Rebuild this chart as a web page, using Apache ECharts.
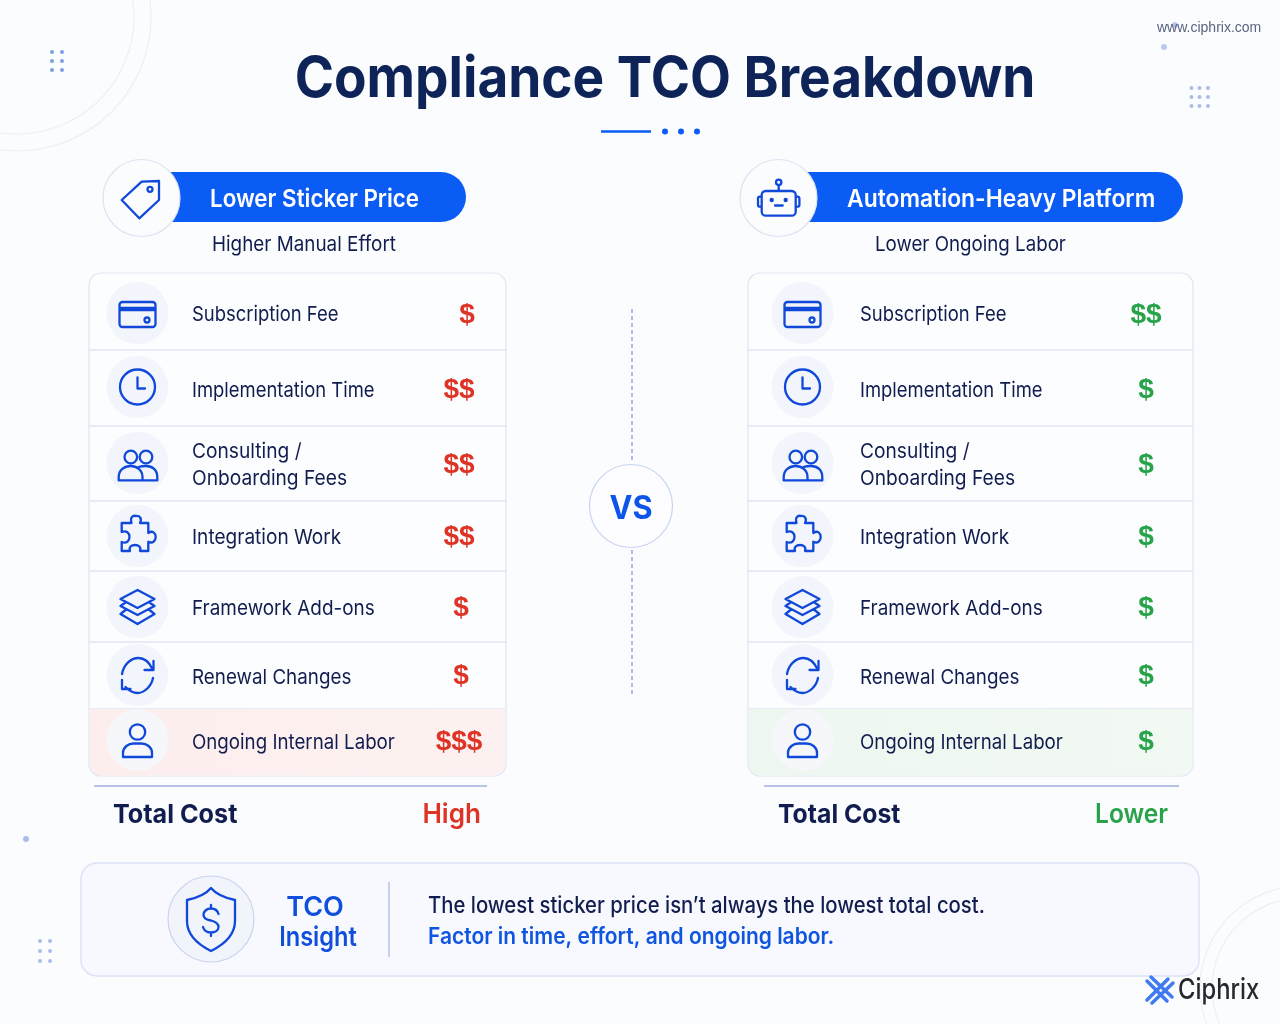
<!DOCTYPE html>
<html>
<head>
<meta charset="utf-8">
<title>Compliance TCO Breakdown</title>
<script src="https://cdn.jsdelivr.net/npm/echarts@6/dist/echarts.min.js"></script>
<style>
html, body { margin: 0; padding: 0; background: #fbfcfe; }
#chart { width: 1280px; height: 1024px; }
</style>
</head>
<body>
<div id="chart"></div>
<script>
// table content
var rowLabels = ['Subscription Fee', 'Implementation Time', 'Consulting /\nOnboarding Fees', 'Integration Work', 'Framework Add-ons', 'Renewal Changes', 'Ongoing Internal Labor'];
var rowIcons = ['card', 'clock', 'people', 'puzzle', 'layers', 'refresh', 'person'];
var leftCost = [1, 2, 2, 2, 1, 1, 3];
var rightCost = [2, 1, 1, 1, 1, 1, 1];

// layout of the rows (px from top of card)
var rowEdges = [0, 77, 153, 228, 298, 369, 436, 503];
var iconOffsets = [40, 114, 190, 263, 334, 402, 467];
var textOffsets = [42, 118, 192, 265, 336, 405, 470];
var costOffsets = [42, 117, 192, 264, 335, 403, 469];
var labelScale = [0.899, 0.898, 0.936, 0.93, 0.923, 0.918, 0.913];
var leftCostX = [378, 370, 370, 370, 372, 372, 370];

var font = 'Inter';
var navy = '#111d4f';
var blue = '#0b5cf4';
var iconBlue = '#1048da';
var red = '#dd3426';
var green = '#28a34a';
var line = '#dfe5f3';

var icons = {
    card: 'M-15,-11 H15 A3,3 0 0 1 18,-8 V11 A3,3 0 0 1 15,14 H-15 A3,3 0 0 1 -18,11 V-8 A3,3 0 0 1 -15,-11 Z M-18,-5 H18 M-18,-3 H18 M7,7 a2.5,2.5 0 1 0 5,0 a2.5,2.5 0 1 0 -5,0 Z',
    clock: 'M-17.5,0 a17.5,17.5 0 1 0 35,0 a17.5,17.5 0 1 0 -35,0 Z M0,-9.5 V1.5 H7.5',
    people: 'M-13,-6 a6.3,6.3 0 1 0 12.6,0 a6.3,6.3 0 1 0 -12.6,0 Z M2.2,-6 a6.3,6.3 0 1 0 12.6,0 a6.3,6.3 0 1 0 -12.6,0 Z M-18.8,17.4 V14 C-18.8,7 -13,3 -6.8,3 C-1,3 5,7 5,14 V17.4 Z M1,4 C3,3.4 5,3 8.5,3 C15,3 19.8,7 19.8,14 V17.4 H5',
    puzzle: 'M-15.8,-13 H-6 C-8,-20 -3,-20.5 -2,-20 C3,-20.5 4.5,-17 2.5,-13 H10.8 V-3 C15,-6 18.2,-3 18.2,1 C18.2,5 15,8 10.8,5.7 V15 H2.5 C4,11 1,9 -2.5,9 C-6,9 -9,11 -7.5,15 H-15.8 V6 C-11,8 -8,5 -8,1 C-8,-3 -11,-6 -15.8,-4 Z',
    layers: 'M0,-17 L17,-8 L0,1 L-17,-8 Z M-12,-4.5 L-17,-1 L0,8 L17,-1 L12,-4.5 M-12,3 L-17,7 L0,17 L17,7 L12,3',
    refresh: 'M-15.5,-1 C-14,-10 -7,-17 1,-17 C7,-17 12,-12 15,-6 M16,-14 V-5 H7 M15.5,3 C14,11 7,18 0,18 C-5,18 -9,15 -12,12 M-15.5,5 V14 H-7',
    person: 'M-7.7,-8 a7.7,7.7 0 1 0 15.4,0 a7.7,7.7 0 1 0 -15.4,0 Z M-14.5,17 V13 C-14.5,7 -9,3.5 -4,3.5 H4 C9,3.5 14.5,7 14.5,13 V17 Z',
    tag: 'M-19.3,2 L0.7,-16.3 L18,-17 L18,2 L-1.7,20.3 Z M6.5,-8.7 a2.5,2.5 0 1 0 5,0 a2.5,2.5 0 1 0 -5,0 Z',
    robot: 'M-12.3,-7 H13.7 A4,4 0 0 1 17.7,-3 V13.7 A4,4 0 0 1 13.7,17.7 H-12.3 A4,4 0 0 1 -16.3,13.7 V-3 A4,4 0 0 1 -12.3,-7 Z M0.7,-7 V-13 M-2,-15.7 a2.7,2.7 0 1 0 5.4,0 a2.7,2.7 0 1 0 -5.4,0 Z M-16.3,-1.3 H-18 A2,2 0 0 0 -20,0.7 V6.7 A2,2 0 0 0 -18,8.7 H-16.3 M17.7,-1.3 H19.4 A2,2 0 0 1 21.4,0.7 V6.7 A2,2 0 0 1 19.4,8.7 H17.7 M-3,7.5 H4.7',
    shield: 'M0,-31 C5,-25 14,-21 24,-19 V2 C24,16 12,26 0,32 C-12,26 -24,16 -24,2 V-19 C-14,-21 -5,-25 0,-31 Z M0,-14 V-10.5 M0,13.5 V17 M7.5,-5 C6.5,-8.5 3.5,-10.5 0,-10.5 C-4,-10.5 -7.5,-8 -7.5,-4 C-7.5,0 -3.5,1 0,1.5 C4,2.5 7.5,4 7.5,8 C7.5,11.5 4,13.5 0,13.5 C-4,13.5 -7,11.5 -8,8'
};

function makeRowRenderer(side, highlightFrom, highlightTo, costColor, iconX, labelX, costX) {
    return function (params, api) {
        var i = api.value(0);
        var level = api.value(1);
        var top = api.coord([0, rowEdges[i]]);
        var bottom = api.coord([0, rowEdges[i + 1]]);
        var right = api.coord([side, 0])[0];
        var left = top[0];
        var card = api.coord([0, 0]);
        var last = i === rowLabels.length - 1;
        var children = [];
        if (last) {
            children.push({
                type: 'rect',
                shape: { x: left + 0.5, y: top[1], width: right - left - 1, height: bottom[1] - top[1] - 0.5, r: [0, 0, 12, 12] },
                style: { fill: new echarts.graphic.LinearGradient(0, 0, 1, 0, [
                    { offset: 0, color: highlightFrom },
                    { offset: 1, color: highlightTo }
                ]) }
            });
        } else {
            children.push({
                type: 'line',
                shape: { x1: left, y1: bottom[1], x2: right, y2: bottom[1] },
                style: { stroke: line, lineWidth: 1.5 }
            });
        }
        var cy = card[1] + iconOffsets[i];
        var ty = card[1] + textOffsets[i];
        children.push({
            type: 'circle',
            shape: { cx: left + iconX, cy: cy, r: 31 },
            style: { fill: last ? '#f6f7fb' : '#f2f5fb' }
        });
        children.push({
            type: 'path',
            x: left + iconX,
            y: cy,
            shape: { pathData: icons[rowIcons[i]] },
            style: { fill: 'none', stroke: iconBlue, lineWidth: 2.3, lineJoin: 'round', lineCap: 'round' }
        });
        children.push({
            type: 'text',
            x: left + labelX,
            y: ty,
            scaleX: labelScale[i],
            style: { text: rowLabels[i], x: 0, y: 0, fontFamily: font, fontSize: 20.5, fontWeight: 400, fill: navy, lineHeight: 27, align: 'left', verticalAlign: 'middle' }
        });
        children.push({
            type: 'text',
            style: { text: '$'.repeat(level), x: left + (costX ? costX[i] : 398), y: card[1] + costOffsets[i], fontFamily: 'Liberation Sans', fontSize: 28, fontWeight: 700, fill: costColor, align: 'center', verticalAlign: 'middle' }
        });
        return { type: 'group', children: children };
    };
}

function overlayIcons() {
    var list = [
        { name: 'tag', x: 141, y: 198 },
        { name: 'robot', x: 778, y: 198 },
        { name: 'shield', x: 211, y: 919 }
    ];
    var children = list.map(function (d) {
        return {
            type: 'path',
            x: d.x,
            y: d.y,
            shape: { pathData: icons[d.name] },
            style: { fill: 'none', stroke: iconBlue, lineWidth: 2.3, lineJoin: 'round', lineCap: 'round' }
        };
    });
    // robot eyes
    [[771.7, 200], [785.7, 200]].forEach(function (p) {
        children.push({ type: 'circle', shape: { cx: p[0], cy: p[1], r: 2.2 }, style: { fill: iconBlue } });
    });
    // logo mark
    children.push({
        type: 'path',
        x: 1160,
        y: 990,
        shape: { pathData: 'M-13,-9 L7,11 M-9,-13 L12,7 M-13,10 L8,-11 M-8,13 L13,-7' },
        style: { fill: 'none', stroke: '#3f7af2', lineWidth: 3.5, lineCap: 'round' }
    });
    return { type: 'group', children: children };
}

function txt(text, x, y, size, weight, fill, align, sx, family) {
    return {
        type: 'text',
        z: 5,
        x: x,
        y: y,
        scaleX: sx || 1,
        style: { text: text, x: 0, y: 0, fontFamily: family || font, fontSize: size, fontWeight: weight, fill: fill, align: align || 'left', verticalAlign: 'middle' }
    };
}
function circle(cx, cy, r, fill, stroke, z) {
    return { type: 'circle', z: z || 1, shape: { cx: cx, cy: cy, r: r }, style: { fill: fill, stroke: stroke || 'none', lineWidth: 1.2 } };
}
function seg(x1, y1, x2, y2, stroke, width, dash) {
    return { type: 'line', z: 1, shape: { x1: x1, y1: y1, x2: x2, y2: y2 }, style: { stroke: stroke, lineWidth: width, lineDash: dash || null } };
}
function dots(xs, ys, r, fill) {
    var out = [];
    xs.forEach(function (x) { ys.forEach(function (y) { out.push(circle(x, y, r, fill)); }); });
    return out;
}

var elements = [
    // background rings
    circle(17, 17, 134, 'none', '#eceff7', 0),
    circle(17, 17, 117, 'none', '#eceff7', 0),
    circle(1302, 988, 102, 'none', '#eceff7', 0),
    circle(1302, 988, 90, 'none', '#eceff7', 0)
].concat(
    dots([52, 62], [52, 61, 70], 2, '#7f9fe2'),
    dots([1191.5, 1199.5, 1208], [88, 97, 106], 2, '#a9bde8'),
    dots([40, 50], [941, 951, 961], 2, '#a9bde8'),
    [
        circle(1175, 25, 3, '#b8c8f2'),
        circle(1164, 47, 3, '#b8c8f2'),
        circle(26, 839, 3, '#a9bde8'),
        txt('www.ciphrix.com', 1157, 28, 14, 400, '#5b6480', 'left', 1, 'Liberation Sans'),

        // title
        txt('Compliance TCO Breakdown', 665, 80, 56, 700, '#0e2358', 'center', 0.949),
        seg(601, 131.5, 651, 131.5, blue, 2.5),
        circle(665, 131.5, 3, blue),
        circle(681, 131.5, 3, blue),
        circle(697, 131.5, 3, blue),

        // left header
        { type: 'rect', z: 1, shape: { x: 141, y: 172, width: 325, height: 50, r: [0, 25, 25, 0] }, style: { fill: blue } },
        circle(141.5, 198, 38.5, '#fbfcfe', '#dde3f3', 2),
        txt('Lower Sticker Price', 210, 200, 24.5, 600, '#ffffff', 'left', 0.913),
        txt('Higher Manual Effort', 212, 245, 20.5, 400, navy, 'left', 0.92),

        // right header
        { type: 'rect', z: 1, shape: { x: 778, y: 172, width: 405, height: 50, r: [0, 25, 25, 0] }, style: { fill: blue } },
        circle(778.5, 198, 38.5, '#fbfcfe', '#dde3f3', 2),
        txt('Automation-Heavy Platform', 847, 200, 24.5, 600, '#ffffff', 'left', 0.933),
        txt('Lower Ongoing Labor', 875, 245, 20.5, 400, navy, 'left', 0.913),

        // cards
        { type: 'rect', z: 0, shape: { x: 89, y: 273, width: 417, height: 503, r: 12 }, style: { fill: '#fcfdfe', stroke: line, lineWidth: 1.2 } },
        { type: 'rect', z: 0, shape: { x: 748, y: 273, width: 445, height: 503, r: 12 }, style: { fill: '#fcfdfe', stroke: line, lineWidth: 1.2 } },

        // versus
        seg(632, 309, 632, 463, '#8ea3cf', 1.4, [4, 3]),
        seg(632, 550, 632, 695, '#8ea3cf', 1.4, [4, 3]),
        circle(631, 506, 41.5, '#fdfdff', '#c8d4ef', 2),
        txt('VS', 631, 509, 32, 700, '#0d55e8', 'center', 0.96),

        // totals
        seg(94, 786, 487, 786, '#9db0df', 1.5),
        seg(764, 786, 1179, 786, '#9db0df', 1.5),
        txt('Total Cost', 113, 815, 26, 700, navy, 'left', 0.968),
        txt('High', 481, 815, 27, 600, red, 'right', 0.967),
        txt('Total Cost', 778, 815, 26, 700, navy, 'left', 0.953),
        txt('Lower', 1168, 815, 27, 600, green, 'right', 0.91),

        // insight box
        { type: 'rect', z: 0, shape: { x: 81, y: 863, width: 1118, height: 113, r: 16 }, style: { fill: '#f8f9fe', stroke: '#d9e2f5', lineWidth: 1.4 } },
        circle(211, 919, 43, '#f1f4fb', '#c9d4ee', 1),
        txt('TCO', 315, 908, 27, 600, '#0f4fdc', 'center'),
        txt('Insight', 318, 938, 27, 600, '#0f4fdc', 'center', 0.875),
        seg(389, 882, 389, 957, '#b5c5e8', 1.5),
        txt('The lowest sticker price isn\u2019t always the lowest total cost.', 428, 906, 22.5, 500, navy, 'left', 0.902),
        txt('Factor in time, effort, and ongoing labor.', 428, 937, 22.5, 600, '#0f55e0', 'left', 0.932),

        // logo word
        txt('Ciphrix', 1178, 991, 28, 500, '#26282f', 'left', 0.85)
    ]
);

var chart = echarts.init(document.getElementById('chart'));
chart.setOption({
    backgroundColor: '#fbfcfe',
    animation: false,
    grid: [
        { left: 89, top: 273, width: 417, height: 503 },
        { left: 748, top: 273, width: 445, height: 503 }
    ],
    xAxis: [
        { gridIndex: 0, type: 'value', min: 0, max: 417, show: false },
        { gridIndex: 1, type: 'value', min: 0, max: 445, show: false }
    ],
    yAxis: [
        { gridIndex: 0, type: 'value', min: 0, max: 503, inverse: true, show: false },
        { gridIndex: 1, type: 'value', min: 0, max: 503, inverse: true, show: false }
    ],
    graphic: { elements: elements },
    series: [
        {
            type: 'custom',
            name: 'Lower Sticker Price',
            xAxisIndex: 0,
            yAxisIndex: 0,
            z: 3,
            clip: false,
            encode: { x: 2, y: 2 },
            renderItem: makeRowRenderer(417, '#fdeeee', '#fcf1f0', red, 48.5, 103, leftCostX),
            data: leftCost.map(function (v, i) { return [i, v, 0]; })
        },
        {
            type: 'custom',
            name: 'Automation-Heavy Platform',
            xAxisIndex: 1,
            yAxisIndex: 1,
            z: 3,
            clip: false,
            encode: { x: 2, y: 2 },
            renderItem: makeRowRenderer(445, '#edf7ef', '#f2f9f3', green, 54.5, 112, null),
            data: rightCost.map(function (v, i) { return [i, v, 0]; })
        },
        {
            type: 'custom',
            coordinateSystem: 'none',
            z: 6,
            renderItem: overlayIcons,
            data: [0]
        }
    ]
});
</script>
</body>
</html>
